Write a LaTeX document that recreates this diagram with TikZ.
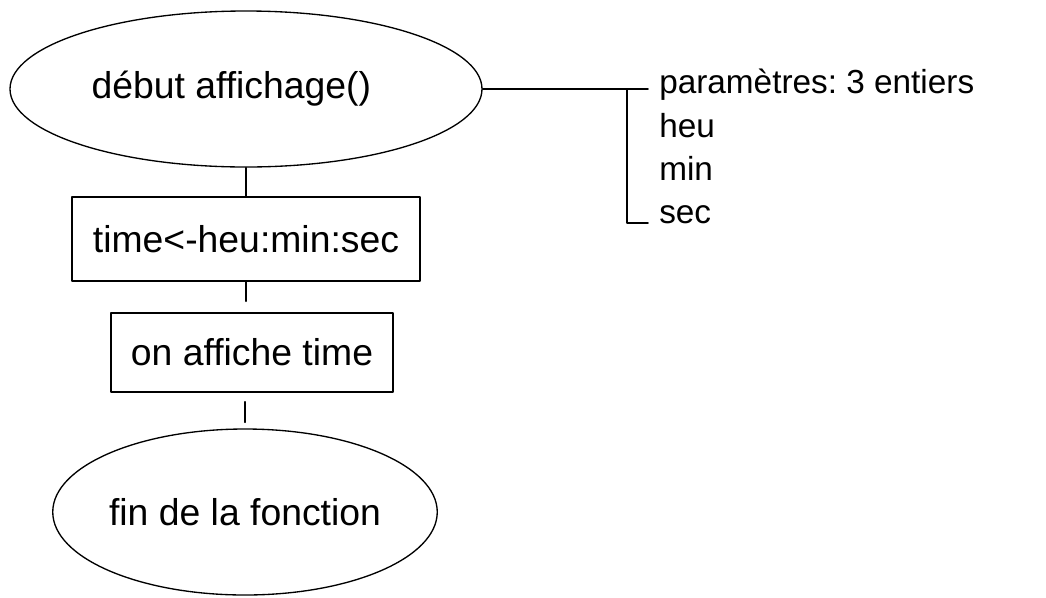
\documentclass[tikz,border=0pt]{standalone}
\usepackage{fontspec}
\setmainfont{Liberation Sans}
\usetikzlibrary{shapes.geometric,calc}
\frenchspacing

\begin{document}
\begin{tikzpicture}[line cap=round,line join=round,x=0.75pt,y=-0.75pt,
	bulle/.style={draw,ellipse,line width=1pt,inner sep=0pt,font=\fontsize{28}{34}\selectfont},
	etape/.style={draw,rectangle,line width=1.2pt,inner sep=0pt,font=\fontsize{28}{34}\selectfont},
	liste/.style={anchor=base west,inner sep=0pt,font=\fontsize{25}{30}\selectfont}]
		\useasboundingbox (0,0) rectangle (1046,597);
		% organigramme
		\node[bulle,minimum width=354pt,minimum height=117pt] (debut) at (246,89) {d\'ebut affichage()\kern22pt\relax};
		\node[etape,minimum width=261pt,minimum height=63pt] (calcul) at (246,239) {time<-heu:min:sec};
		\node[etape,minimum width=211.5pt,minimum height=59.25pt] (affiche) at (252,352.5) {on affiche time};
		\node[bulle,minimum width=283.5pt,minimum height=124.5pt] (fin) at (245,512) {fin de la fonction};
		\draw [line width=1.2pt] (debut) -- (calcul);
		\draw [line width=1.2pt,shorten >=8.25pt] (calcul.south) -- (calcul.south |- affiche.north);
		\draw [line width=1.2pt,shorten <=6.75pt,shorten >=4.5pt] (affiche.south -| fin.north) -- (fin.north);
		% parametres
		\coordinate (crochet) at (627,89);
		\draw [line width=1.2pt] (debut.east) -- (crochet);
		\draw [line width=1.2pt] ($(crochet)+(21,0)$) -- (crochet) -- ++(0,134) -- ++(21,0);
		\node[liste] (param) at (659,93) {param\`etres: 3 entiers};
		\node[liste] (heu) at (659,137) {heu};
		\node[liste] (min) at (659,180) {min};
		\node[liste] (sec) at (659,223) {sec};
	\end{tikzpicture}
\end{document}
